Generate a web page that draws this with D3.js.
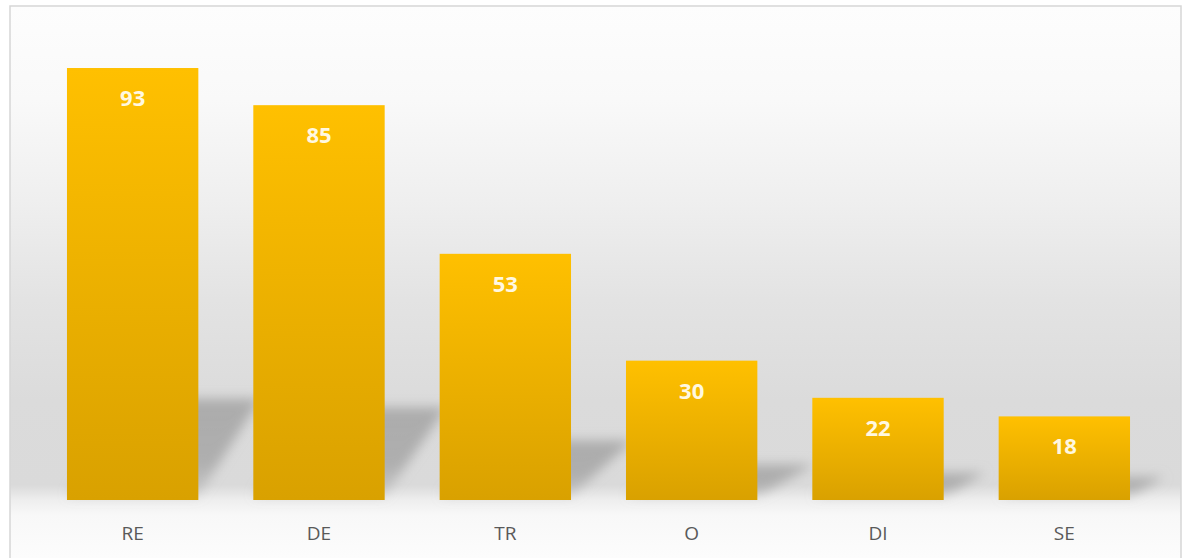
<!DOCTYPE html>
<html>
<head>
<meta charset="utf-8">
<script src="https://cdn.jsdelivr.net/npm/d3@7/dist/d3.min.js"></script>
<style>
  html, body { margin: 0; padding: 0; background: #ffffff; }
  svg { display: block; }
</style>
</head>
<body>
<svg id="chart" width="1186" height="558"></svg>
<script>
const categories = ["RE", "DE", "TR", "O", "DI", "SE"];
const values = [93, 85, 53, 30, 22, 18];
const yDomain = [0, 100];

const W = 1186, H = 558;
const svg = d3.select("#chart");
const defs = svg.append("defs");

// background gradient (plot area)
const bg = defs.append("linearGradient").attr("id", "bgGrad")
  .attr("gradientUnits", "userSpaceOnUse")
  .attr("x1", 0).attr("y1", 6).attr("x2", 0).attr("y2", 558);
[[6, "#fdfdfd"], [100, "#f9f9f9"], [200, "#efefef"], [300, "#e3e3e3"],
 [400, "#dbdbdb"], [485, "#dadada"], [500, "#eeeeee"], [515, "#f8f8f8"], [558, "#fcfcfc"]]
  .forEach(([y, c]) => bg.append("stop").attr("offset", ((y - 6) / 552 * 100) + "%").attr("stop-color", c));

const barGrad = defs.append("linearGradient").attr("id", "barGrad")
  .attr("x1", 0).attr("y1", 0).attr("x2", 0).attr("y2", 1);
barGrad.append("stop").attr("offset", "0%").attr("stop-color", "#ffc000");
barGrad.append("stop").attr("offset", "100%").attr("stop-color", "#d9a100");

const shGrad = defs.append("linearGradient").attr("id", "shGrad")
  .attr("x1", 0).attr("y1", 1).attr("x2", 0).attr("y2", 0);
shGrad.append("stop").attr("offset", "0%").attr("stop-color", "#a8a8a8").attr("stop-opacity", 0.35);
shGrad.append("stop").attr("offset", "35%").attr("stop-color", "#a0a0a0").attr("stop-opacity", 0.75);
shGrad.append("stop").attr("offset", "100%").attr("stop-color", "#a0a0a0").attr("stop-opacity", 0.8);

const blur = defs.append("filter").attr("id", "shBlur")
  .attr("x", "-50%").attr("y", "-50%").attr("width", "200%").attr("height", "200%");
blur.append("feGaussianBlur").attr("stdDeviation", 6);

// frame
svg.append("rect").attr("x", 10).attr("y", 6).attr("width", 1171).attr("height", 570)
  .attr("fill", "url(#bgGrad)").attr("stroke", "#d6d6d6").attr("stroke-width", 1.5);

const x = d3.scaleBand().domain(categories).range([12, 1185]).paddingInner(0.295).paddingOuter(0.295);
const y = d3.scaleLinear().domain(yDomain).range([500, 35.5]);

const data = categories.map((c, i) => ({ cat: c, v: values[i] }));

// shadows
const gSh = svg.append("g").attr("filter", "url(#shBlur)");
gSh.selectAll("path").data(data).enter().append("path")
  .attr("d", d => {
    const x0 = x(d.cat), x1 = x0 + x.bandwidth();
    const base = y(0) - 4;
    const hs = (y(0) - y(d.v)) * 0.225;
    const shift = Math.min(62, 1.8 * hs);
    return `M${x0},${base}L${x1},${base}L${x1 + shift},${base - hs}L${x0 + shift},${base - hs}Z`;
  })
  .attr("fill", "url(#shGrad)");

// bars
svg.append("g").selectAll("rect").data(data).enter().append("rect")
  .attr("x", d => x(d.cat))
  .attr("y", d => y(d.v))
  .attr("width", x.bandwidth())
  .attr("height", d => y(0) - y(d.v))
  .attr("fill", "url(#barGrad)");

// value labels
svg.append("g").selectAll("text").data(data).enter().append("text")
  .attr("x", d => x(d.cat) + x.bandwidth() / 2)
  .attr("y", d => y(d.v) + 38)
  .attr("text-anchor", "middle")
  .attr("font-family", "'Open Sans', sans-serif")
  .attr("font-weight", "bold")
  .attr("font-size", 22)
  .attr("fill", "#fff8e1")
  .text(d => d.v);

// x axis
const ax = svg.append("g").attr("transform", `translate(0,${y(0)})`)
  .call(d3.axisBottom(x).tickSize(0).tickPadding(0));
ax.select(".domain").remove();
ax.selectAll("text")
  .attr("dy", null).attr("y", 40)
  .attr("font-family", "'Open Sans', sans-serif")
  .attr("font-size", 19)
  .attr("fill", "#595959");
</script>
</body>
</html>
